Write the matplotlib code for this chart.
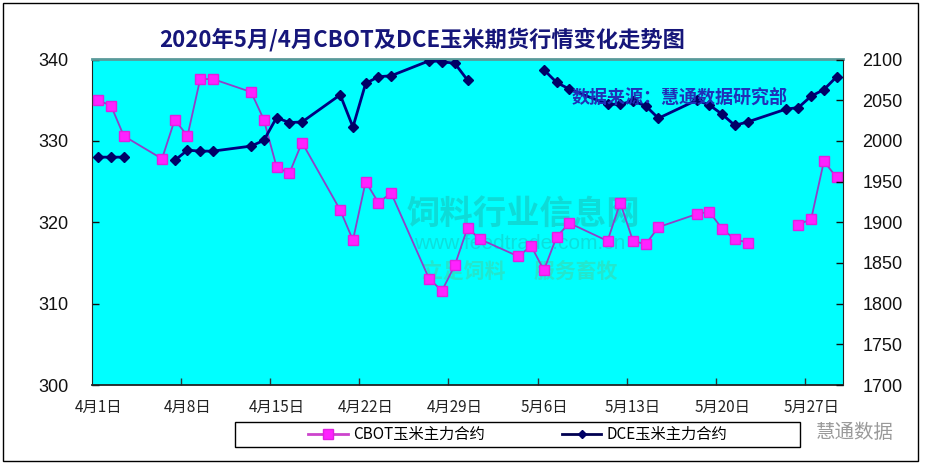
import matplotlib
matplotlib.use('Agg')
import matplotlib.pyplot as plt
import pandas as pd
import numpy as np
from matplotlib.patches import Rectangle
from matplotlib.lines import Line2D

plt.rcParams['font.family'] = ['Liberation Sans', 'Noto Sans CJK SC', 'DejaVu Sans']

# ---------------- data ----------------
dates = ['2020-04-01', '2020-04-02', '2020-04-03', '2020-04-06', '2020-04-07', '2020-04-08',
         '2020-04-09', '2020-04-10', '2020-04-13', '2020-04-14', '2020-04-15', '2020-04-16',
         '2020-04-17', '2020-04-20', '2020-04-21', '2020-04-22', '2020-04-23', '2020-04-24',
         '2020-04-27', '2020-04-28', '2020-04-29', '2020-04-30', '2020-05-01', '2020-05-04',
         '2020-05-05', '2020-05-06', '2020-05-07', '2020-05-08', '2020-05-11', '2020-05-12',
         '2020-05-13', '2020-05-14', '2020-05-15', '2020-05-18', '2020-05-19', '2020-05-20',
         '2020-05-21', '2020-05-22', '2020-05-25', '2020-05-26', '2020-05-27', '2020-05-28',
         '2020-05-29']
nan = float('nan')
cbot = [335.0, 334.3, 330.6, 327.8, 332.6, 330.6,
        337.6, 337.6, 336.0, 332.6, 326.8, 326.0,
        329.8, 321.5, 317.8, 325.0, 322.4, 323.6,
        313.0, 311.6, 314.7, 319.3, 317.9, 315.8,
        317.1, 314.1, 318.2, 319.9, 317.7, 322.4,
        317.7, 317.3, 319.4, 321.0, 321.3, 319.2,
        317.9, 317.5, nan, 319.7, 320.4, 327.5,
        325.5]
dce = [1980, 1980, 1980, nan, 1976, 1988.6,
       1987.4, 1987.4, 1993.6, 2000.6, 2028.6, 2022.5,
       2023.2, 2056.6, 2017, 2070.6, 2078.8, 2080,
       2098.5, 2097.3, 2095.3, 2074.7, nan, nan,
       nan, 2087.4, 2071.8, 2063.6, 2045, 2045,
       2049, 2043, 2027.8, 2050, 2044.2, 2032.7,
       2019.1, 2023.2, 2038.9, 2041, 2055.0, 2063.0,
       2078.8]
label_dates = ['2020-04-01', '2020-04-08', '2020-04-15', '2020-04-22', '2020-04-29',
               '2020-05-06', '2020-05-13', '2020-05-20', '2020-05-27']
tick_labels = ['4月1日', '4月8日', '4月15日', '4月22日', '4月29日',
               '5月6日', '5月13日', '5月20日', '5月27日']
left_ticks = [300, 310, 320, 330, 340]
right_ticks = [1700, 1750, 1800, 1850, 1900, 1950, 2000, 2050, 2100]
series_names = ['CBOT玉米主力合约', 'DCE玉米主力合约']
title = '2020年5月/4月CBOT及DCE玉米期货行情变化走势图'
source = '数据来源：慧通数据研究部'

# ---------------- figure ----------------
W, H = 925, 465
fig = plt.figure(figsize=(W / 100, H / 100), dpi=100)
fig.patch.set_facecolor('white')

def fx(px):
    return px / W

def fy(py):
    return 1 - py / H

# outer frame
fig.patches.append(Rectangle((fx(3), fy(461)), fx(918) - fx(3), fy(3) - fy(461),
                             transform=fig.transFigure, fill=False, edgecolor='black',
                             linewidth=1.0, zorder=0))

ax = fig.add_axes([fx(92), fy(385), fx(843) - fx(92), fy(59.5) - fy(385)])
ax.set_facecolor('#00ffff')
ax2 = ax.twinx()

xd = pd.to_datetime(dates)
ax.plot(xd, cbot, color='#9040c8', linewidth=1.3, marker='s', markersize=7.5,
        markerfacecolor='#ff22ff', markeredgecolor='#e020e0', zorder=3)
ax2.plot(xd, dce, color='#000080', linewidth=2.0, marker='D', markersize=5.5,
         markerfacecolor='#000066', markeredgecolor='#000066', zorder=3)

x0 = pd.Timestamp('2020-03-31 12:00')
x1 = pd.Timestamp('2020-05-29 12:00')
ax.set_xlim(x0, x1)
ax.set_ylim(300, 340)
ax2.set_ylim(1700, 2100)

# category boundary ticks every 7 days, labels at category centres
major = [pd.Timestamp('2020-04-07 12:00') + pd.Timedelta(days=7 * k) for k in range(8)]
ax.set_xticks(major)
ax.set_xticklabels([''] * len(major))
ax.set_xticks(pd.to_datetime(label_dates), minor=True)
ax.set_xticklabels(tick_labels, minor=True, fontsize=11,
                   family=['Noto Sans CJK SC', 'DejaVu Sans'])
ax.tick_params(axis='x', which='major', direction='in', length=5, width=1, color='#333333')
ax.tick_params(axis='x', which='minor', length=0, pad=10, colors='#222222')

ax.set_yticks(left_ticks)
ax.tick_params(axis='y', direction='in', length=5, width=1, labelsize=13, pad=17,
               colors='#111111')
ax2.set_yticks(right_ticks)
ax2.tick_params(axis='y', direction='in', length=5, width=1, labelsize=13, pad=14,
                colors='#111111')
ax2.tick_params(axis='x', which='both', length=0)

for a in (ax, ax2):
    for s in a.spines.values():
        s.set_visible(False)
ax.spines['left'].set_visible(True)
ax.spines['left'].set_color('#222222')
ax.spines['bottom'].set_visible(True)
ax.spines['bottom'].set_color('#222222')
ax.spines['bottom'].set_linewidth(1.3)
ax.spines['top'].set_visible(True)
ax.spines['top'].set_color('#5a9a9a')
ax.spines['top'].set_linewidth(2.0)
ax2.spines['right'].set_visible(True)
ax2.spines['right'].set_color('#222222')

# watermark (semi-transparent, behind data)
ax.text(0.575, 0.525, '饲料行业信息网', transform=ax.transAxes, fontsize=24,
        color='#20b0a8', alpha=0.45, ha='center', va='center', weight='bold',
        family=['Noto Sans CJK SC'], zorder=1)
ax.text(0.57, 0.435, 'www.feedtrade.com.cn', transform=ax.transAxes, fontsize=15,
        color='#20b0a8', alpha=0.4, ha='center', va='center', zorder=1)
ax.text(0.57, 0.35, '立足饲料      服务畜牧', transform=ax.transAxes, fontsize=15,
        color='#50c890', alpha=0.45, ha='center', va='center', weight='bold',
        family=['Noto Sans CJK SC'], zorder=1)

# title and source text
fig.text(fx(422), fy(40), title, fontsize=16, weight='bold', color='#16167a',
         ha='center', va='center', family=['Noto Sans CJK SC', 'DejaVu Sans'])
fig.text(fx(680), fy(97), source, fontsize=13, weight='bold', color='#2030b8',
         ha='center', va='center', family=['Noto Sans CJK SC', 'DejaVu Sans'], zorder=10)

# legend
fig.patches.append(Rectangle((fx(235), fy(447)), fx(800) - fx(235), fy(422) - fy(447),
                             transform=fig.transFigure, fill=True, facecolor='white',
                             edgecolor='black', linewidth=1.0, zorder=1))
h1 = Line2D([], [], color='#cc44cc', linewidth=2, marker='s', markersize=7,
            markerfacecolor='#ff22ff', markeredgecolor='#e020e0')
h2 = Line2D([], [], color='#000050', linewidth=2, marker='D', markersize=4.5,
            markerfacecolor='#000066', markeredgecolor='#000066')
leg = fig.legend([h1, h2], series_names, loc='center', bbox_to_anchor=(fx(518), fy(434.5)),
                 ncol=2, frameon=False, handlelength=2.6, handletextpad=0.35,
                 columnspacing=5.0, borderpad=0.2,
                 prop={'family': ['Noto Sans CJK SC', 'DejaVu Sans'], 'size': 11})

# corner watermark
fig.text(fx(855), fy(432), '慧通数据', fontsize=14, color='#9a9a9a', ha='center',
         va='center', family=['Noto Sans CJK SC', 'DejaVu Sans'])

fig.savefig('out.png', dpi=100)
